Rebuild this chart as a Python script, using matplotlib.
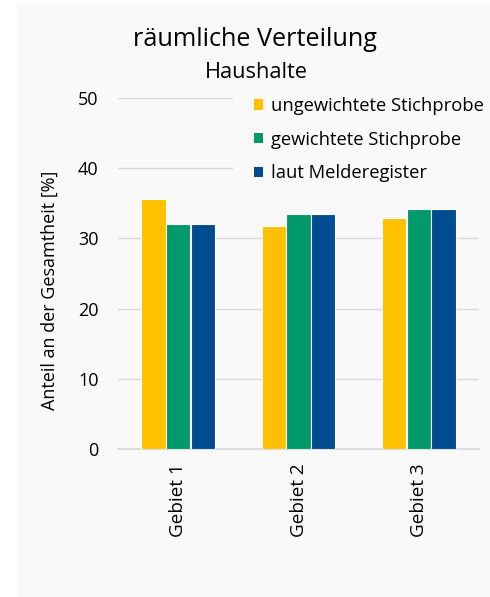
import matplotlib
matplotlib.use("Agg")
import matplotlib.pyplot as plt
from matplotlib.patches import Patch, Rectangle
import numpy as np

categories = ["Gebiet 1", "Gebiet 2", "Gebiet 3"]
series_names = ["ungewichtete Stichprobe", "gewichtete Stichprobe", "laut Melderegister"]
ungewichtet = [35.6, 31.8, 32.9]
gewichtet = [32.1, 33.5, 34.2]
melderegister = [32.1, 33.5, 34.2]
yticks = [0, 10, 20, 30, 40, 50]

colors = ["#FFC000", "#00996A", "#004C91"]
bg = "#F9F9F9"

plt.rcParams['font.family'] = ['Open Sans', 'DejaVu Sans']

fig = plt.figure(figsize=(4.9, 5.97), dpi=100)
fig.patch.set_facecolor("white")
fig.patches.append(Rectangle((17/490, 0), 1 - 17/490, 1 - 4/597, transform=fig.transFigure,
                             facecolor=bg, edgecolor="none", zorder=-10))

ax = fig.add_axes([118/490, 1 - 449/597, (479 - 118)/490, (449 - 98)/597])
ax.set_facecolor(bg)

x = np.arange(len(categories))
w = 0.2
step = 0.205
for i, (vals, c) in enumerate(zip([ungewichtet, gewichtet, melderegister], colors)):
    ax.bar(x + (i - 1) * step, vals, width=w, color=c, edgecolor="white", linewidth=0.8, zorder=3)

ax.set_xlim(-0.5, 2.5)
ax.set_ylim(0, 50)
ax.set_yticks(yticks)
ax.set_xticks(x)
ax.set_xticklabels(categories, rotation=90, fontsize=13.6)
ax.tick_params(axis="both", length=0)
ax.tick_params(axis="y", labelsize=13.0, pad=14)
ax.tick_params(axis="x", pad=10)
ax.yaxis.grid(True, color="#D9D9D9", linewidth=1, zorder=0)
ax.set_axisbelow(True)
for s in ["top", "right", "left"]:
    ax.spines[s].set_visible(False)
ax.spines["bottom"].set_color("#D9D9D9")
ax.spines["bottom"].set_linewidth(1.2)

ax.set_ylabel("Anteil an der Gesamtheit [%]", fontsize=13.0, va="center")
ax.yaxis.set_label_coords(-(118 - 50) / (479 - 118), (449 - 290) / 351)

handles = [Patch(facecolor=c, edgecolor="none") for c in colors]
leg = ax.legend(handles, series_names, loc="upper left",
                bbox_to_anchor=((233 - 118) / (479 - 118), (449 - 76) / 351),
                frameon=True, facecolor=bg, edgecolor="none", framealpha=1, fontsize=13.2,
                handlelength=0.49, handleheight=0.49, handletextpad=0.44, labelspacing=0.85,
                borderaxespad=0, borderpad=1.15)
leg.set_zorder(5)
leg.get_frame().set_boxstyle("square", pad=0)

fig.text(255/490, 1 - 40/597, "räumliche Verteilung", ha="center", va="center", fontsize=18.2)
fig.text(256/490, 1 - 72/597, "Haushalte", ha="center", va="center", fontsize=15.7)

fig.savefig("out.png", dpi=100, facecolor=fig.get_facecolor())
